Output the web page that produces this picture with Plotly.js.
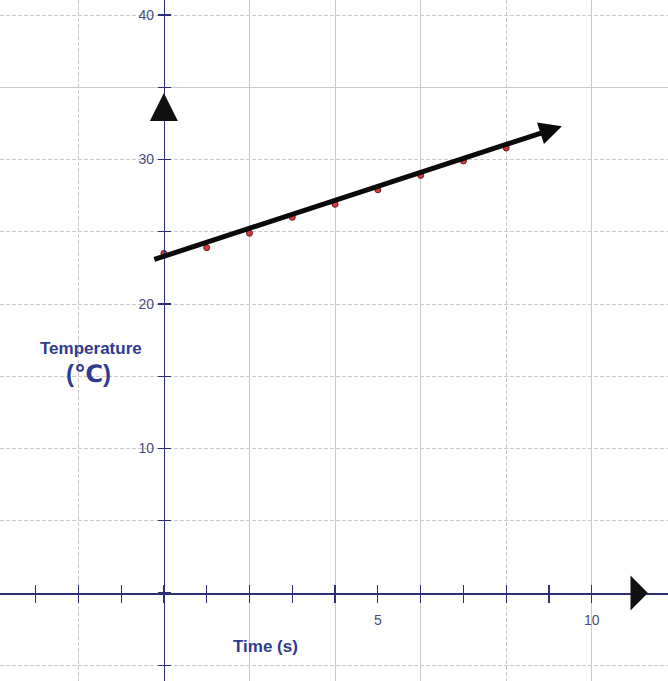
<!DOCTYPE html>
<html>
<head>
<meta charset="utf-8">
<script src="https://cdn.plot.ly/plotly-3.0.1.min.js"></script>
<style>html,body{margin:0;padding:0;background:#fff;}#chart{width:668px;height:681px;}</style>
</head>
<body>
<div id="chart"></div>
<script>
// Data
const timeS = [0, 1, 2, 3, 4, 5, 6, 7, 8];
const temperatureC = [23.5, 23.9, 24.9, 26.0, 26.9, 27.9, 28.9, 29.9, 30.8];
// Best-fit line (tail and arrow tip)
const fitX = [-0.26, 9.3];
const fitY = [23.05, 32.3];
// Tick labels
const xTickVals = [-3, -2, -1, 0, 1, 2, 3, 4, 5, 6, 7, 8, 9, 10];
const xTickText = ['', '', '', '', '', '', '', '', '5', '', '', '', '', '10'];
const yTickVals = [-5, 0, 5, 10, 15, 20, 25, 30, 35, 40];
const yTickText = ['', '', '', '10', '', '20', '', '30', '', '40'];
const xGridSolid = [2, 4, 6, 10];
const xGridDashed = [-2, 8];
const yGridSolid = [35];

const xRange = [-3.83, 11.78];
const yRange = [-6.09, 41.04];
const xPos = (0 - yRange[0]) / (yRange[1] - yRange[0]);   // x axis line at y=0
const yPos = (0 - xRange[0]) / (xRange[1] - xRange[0]);   // y axis line at x=0

const navy = '#2c2f78';
const tickFont = {family: 'Liberation Sans Narrow, Arial Narrow, sans-serif', size: 14, color: '#4a4a7c'};
const titleFont = {family: 'Liberation Sans Narrow, Arial Narrow, sans-serif', size: 17, color: '#2f3b8c'};
const gridC = '#c9c9cc';

const traces = [
  {x: [], y: [], type: 'scatter', xaxis: 'x3', yaxis: 'y3', showlegend: false},
  {x: [], y: [], type: 'scatter', xaxis: 'x4', yaxis: 'y3', showlegend: false},
  {x: [], y: [], type: 'scatter', xaxis: 'x2', yaxis: 'y2', showlegend: false},
  {x: timeS, y: temperatureC, type: 'scatter', mode: 'markers', xaxis: 'x', yaxis: 'y',
   marker: {size: 6, color: '#d8383c', line: {width: 1, color: '#6a1c1c'}}, hoverinfo: 'x+y'}
];

const baseX = {range: xRange, fixedrange: true, zeroline: false, anchor: 'free', position: xPos, side: 'bottom'};
const baseY = {range: yRange, fixedrange: true, zeroline: false, anchor: 'free', position: yPos, side: 'left'};

const layout = {
  width: 668, height: 681,
  margin: {l: 0, r: 0, t: 0, b: 0, pad: 0},
  paper_bgcolor: '#ffffff', plot_bgcolor: '#ffffff',
  showlegend: false,
  xaxis: Object.assign({}, baseX, {
    tickmode: 'array', tickvals: xTickVals, ticktext: xTickText,
    ticks: 'outside', ticklen: 8, tickwidth: 1.2, tickcolor: navy,
    showline: true, linecolor: navy, linewidth: 1.5,
    showgrid: false, tickfont: tickFont, ticklabelstandoff: 6
  }),
  xaxis2: Object.assign({}, baseX, {
    overlaying: 'x',
    tickmode: 'array', tickvals: xTickVals, ticktext: xTickVals.map(() => ''),
    ticks: 'inside', ticklen: 8, tickwidth: 1.2, tickcolor: navy,
    showline: false, showgrid: false, showticklabels: false
  }),
  xaxis3: Object.assign({}, baseX, {
    overlaying: 'x',
    tickmode: 'array', tickvals: xGridSolid,
    ticks: '', showline: false, showticklabels: false,
    showgrid: true, gridcolor: gridC, gridwidth: 1
  }),
  xaxis4: Object.assign({}, baseX, {
    overlaying: 'x',
    tickmode: 'array', tickvals: xGridDashed,
    ticks: '', showline: false, showticklabels: false,
    showgrid: true, gridcolor: gridC, gridwidth: 1, griddash: '4px,2px'
  }),
  yaxis: Object.assign({}, baseY, {
    tickmode: 'array', tickvals: yTickVals, ticktext: yTickText,
    ticks: 'outside', ticklen: 6, tickwidth: 1.2, tickcolor: navy,
    showline: true, linecolor: navy, linewidth: 1.5,
    showgrid: true, gridcolor: gridC, gridwidth: 1, griddash: '4px,2px',
    tickfont: tickFont, ticklabelstandoff: 1
  }),
  yaxis2: Object.assign({}, baseY, {
    overlaying: 'y',
    tickmode: 'array', tickvals: yTickVals,
    ticks: 'inside', ticklen: 6, tickwidth: 1.2, tickcolor: navy,
    showline: false, showgrid: false, showticklabels: false
  }),
  yaxis3: Object.assign({}, baseY, {
    overlaying: 'y',
    tickmode: 'array', tickvals: yGridSolid,
    ticks: '', showline: false, showticklabels: false,
    showgrid: true, gridcolor: gridC, gridwidth: 1
  }),
  annotations: [
    // best-fit line with arrow
    {x: fitX[1], y: fitY[1], ax: fitX[0], ay: fitY[0], xref: 'x', yref: 'y', axref: 'x', ayref: 'y',
     text: '', showarrow: true, arrowhead: 2, arrowwidth: 5, arrowsize: 0.9, arrowcolor: '#0a0a0a'},
    // y-axis arrow
    {x: 0, y: 34.6, xref: 'x', yref: 'y', ax: 0, ay: 28, text: '', showarrow: true,
     arrowhead: 2, arrowwidth: 2, arrowsize: 2.8, arrowcolor: '#111111'},
    // x-axis arrow
    {x: 11.31, y: 0, xref: 'x', yref: 'y', ax: -18, ay: 0, text: '', showarrow: true,
     arrowhead: 1, arrowwidth: 2, arrowsize: 2.9, arrowcolor: '#111111'},
    // axis titles
    {x: 91 / 668, y: 1 - 348 / 681, xref: 'paper', yref: 'paper', text: '<b>Temperature</b>',
     showarrow: false, font: titleFont, xanchor: 'center', yanchor: 'middle'},
    {x: 88 / 668, y: 1 - 373 / 681, xref: 'paper', yref: 'paper', text: '<b>(℃)</b>',
     showarrow: false, font: Object.assign({}, titleFont, {size: 24, family: 'Liberation Sans, DejaVu Sans, sans-serif'}), xanchor: 'center', yanchor: 'middle'},
    {x: 265 / 668, y: 1 - 646 / 681, xref: 'paper', yref: 'paper', text: '<b>Time (s)</b>',
     showarrow: false, font: titleFont, xanchor: 'center', yanchor: 'middle'}
  ]
};

Plotly.newPlot('chart', traces, layout, {displayModeBar: false, staticPlot: true});
</script>
</body>
</html>
